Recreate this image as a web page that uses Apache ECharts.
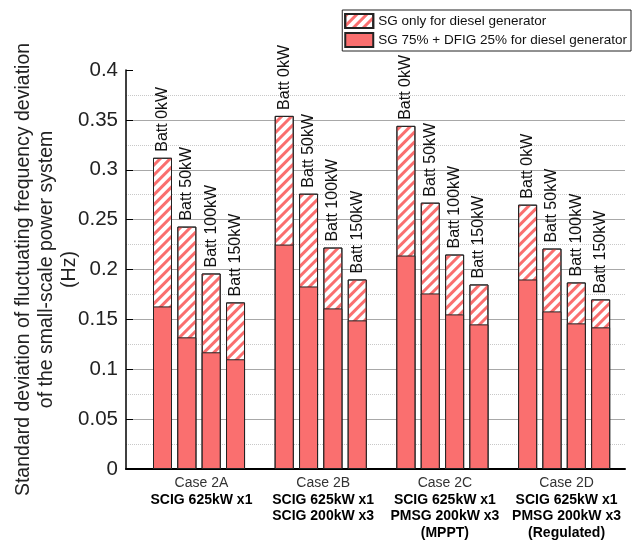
<!DOCTYPE html>
<html>
<head>
<meta charset="utf-8">
<script src="https://cdn.jsdelivr.net/npm/echarts@6/dist/echarts.min.js"></script>
<style>
  html, body { margin: 0; padding: 0; background: #fff; }
  #chart { width: 632px; height: 540px; }
</style>
</head>
<body>
<div id="chart"></div>
<script>
// Casos (grupos del eje X)
const cases = ['Case 2A', 'Case 2B', 'Case 2C', 'Case 2D'];
const caseDetails = [
    ['SCIG 625kW x1'],
    ['SCIG 625kW x1', 'SCIG 200kW x3'],
    ['SCIG 625kW x1', 'PMSG 200kW x3', '(MPPT)'],
    ['SCIG 625kW x1', 'PMSG 200kW x3', '(Regulated)']
];
const battLabels = ['Batt 0kW', 'Batt 50kW', 'Batt 100kW', 'Batt 150kW'];

// Valores (Hz), un array por caso
const sgOnly2A = [0.312, 0.243, 0.196, 0.167];
const sgOnly2B = [0.354, 0.276, 0.222, 0.190];
const sgOnly2C = [0.344, 0.267, 0.215, 0.185];
const sgOnly2D = [0.265, 0.221, 0.187, 0.170];

const sgDfig2A = [0.163, 0.132, 0.117, 0.110];
const sgDfig2B = [0.225, 0.183, 0.161, 0.149];
const sgDfig2C = [0.214, 0.176, 0.155, 0.145];
const sgDfig2D = [0.190, 0.158, 0.146, 0.142];

const sgOnly = [sgOnly2A, sgOnly2B, sgOnly2C, sgOnly2D];
const sgDfig = [sgDfig2A, sgDfig2B, sgDfig2C, sgDfig2D];

// Cada grupo ocupa 5 huecos: 4 barras + 1 separación
function toPoints(groups) {
    const pts = [];
    groups.forEach((vals, g) => {
        vals.forEach((v, b) => pts.push([g * 5 + b, v]));
    });
    return pts;
}

const font = 'Liberation Sans, Arial, sans-serif';
const red = '#fa6f6f';

const chart = echarts.init(document.getElementById('chart'), null, { renderer: 'canvas' });

const option = {
    animation: false,
    textStyle: { fontFamily: font },
    grid: { left: 126, right: 7, top: 70, bottom: 71, containLabel: false, outerBoundsMode: 'none' },
    legend: {
        right: 1,
        top: 10,
        orient: 'vertical',
        icon: 'rect',
        itemWidth: 28,
        itemHeight: 14,
        itemGap: 3,
        padding: [3, 4, 3, 2],
        borderColor: '#222',
        borderWidth: 1,
        textStyle: { fontSize: 13.5, color: '#111', fontFamily: font }
    },
    xAxis: {
        type: 'value',
        min: -1.5,
        max: 19,
        splitLine: { show: false },
        axisTick: { show: false },
        axisLine: { show: true, onZero: false, lineStyle: { color: '#000', width: 2 } },
        axisLabel: {
            show: true,
            customValues: cases.map((c, g) => g * 5 + 1.6),
            margin: 6,
            formatter: v => {
                const g = Math.round((v - 1.6) / 5);
                const lines = ['{n|' + cases[g] + '}'];
                caseDetails[g].forEach(t => lines.push('{b|' + t + '}'));
                return lines.join('\n');
            },
            rich: {
                n: { fontSize: 14, color: '#333', lineHeight: 16.5, fontFamily: font },
                b: { fontSize: 14, fontWeight: 'bold', color: '#000', lineHeight: 16.5, fontFamily: font }
            }
        }
    },
    yAxis: {
        type: 'value',
        min: 0,
        max: 0.4,
        interval: 0.05,
        name: 'Standard deviation of fluctuating frequency deviation\nof the small-scale power system\n(Hz)',
        nameLocation: 'middle',
        nameGap: 45,
        nameMoveOverlap: false,
        nameTextStyle: { fontSize: 19.5, lineHeight: 23, color: '#222', fontFamily: font },
        axisLine: { show: true, onZero: false, lineStyle: { color: '#000', width: 1.5 } },
        axisTick: { show: true, inside: true, length: 7, lineStyle: { color: '#000' } },
        axisLabel: { fontSize: 20.5, color: '#222', margin: 8, fontFamily: font },
        splitLine: { show: true, showMaxLine: false, showMinLine: false, lineStyle: { color: '#a8a8a8', width: 1 } },
        minorTick: { show: false, splitNumber: 2 },
        minorSplitLine: { show: true, lineStyle: { color: '#c8c8c8', type: 'dotted', width: 1 } }
    },
    series: [
        {
            name: 'SG only for diesel generator',
            type: 'bar',
            barWidth: 19,
            barGap: '-100%',
            data: toPoints(sgOnly),
            itemStyle: {
                color: '#fff',
                borderColor: '#222',
                borderWidth: 1,
                decal: {
                    symbol: 'rect',
                    symbolSize: 1,
                    color: red,
                    dashArrayX: [1, 0],
                    dashArrayY: [3, 4],
                    rotation: -Math.PI / 4
                }
            },
            label: {
                show: true,
                position: 'top',
                rotate: 90,
                align: 'left',
                verticalAlign: 'middle',
                distance: 6,
                fontSize: 16,
                color: '#111',
                fontFamily: font,
                formatter: p => battLabels[p.dataIndex % 4]
            }
        },
        {
            name: 'SG 75% + DFIG 25% for diesel generator',
            type: 'bar',
            barWidth: 19,
            barGap: '-100%',
            data: toPoints(sgDfig),
            itemStyle: { color: red, borderColor: '#222', borderWidth: 1 }
        }
    ]
};

chart.setOption(option);
</script>
</body>
</html>
